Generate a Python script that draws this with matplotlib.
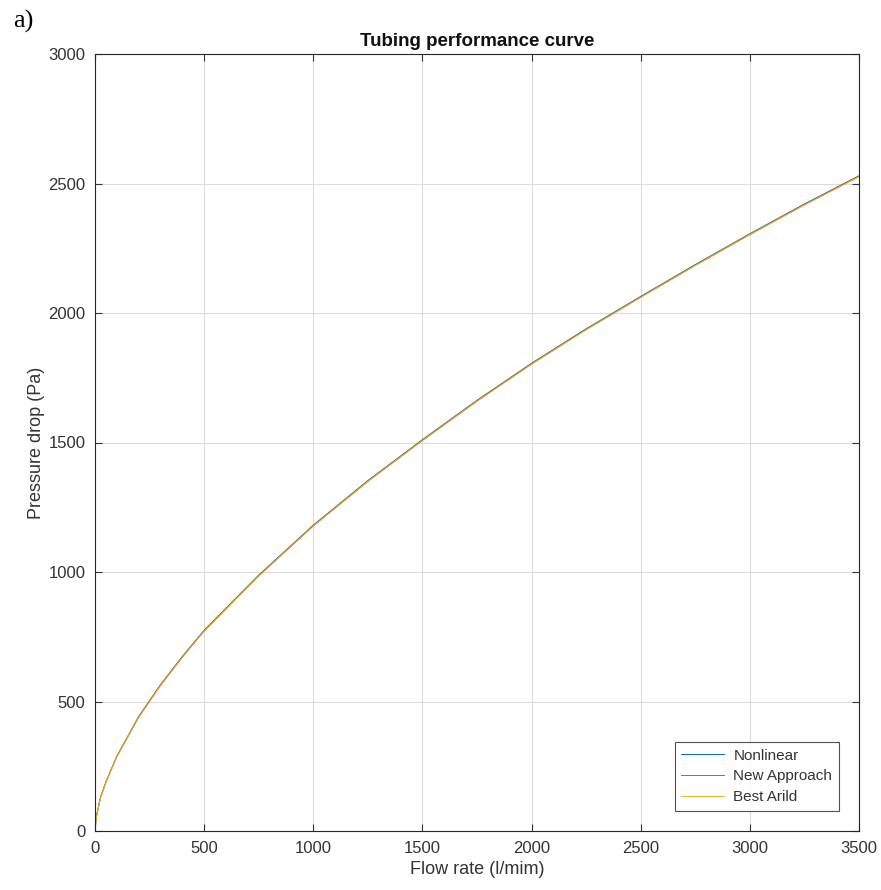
import matplotlib

matplotlib.use("Agg")
import matplotlib.pyplot as plt

# values
flow = [0, 5, 10, 25, 50, 100, 200, 300, 400, 500, 750, 1000, 1250, 1500,
        1750, 2000, 2250, 2500, 2750, 3000, 3250, 3500]
dp_nonlinear = [0, 47, 71, 130, 190, 289, 442, 565, 674, 775, 988, 1181, 1353, 1511,
                1663, 1806, 1939, 2064, 2187, 2306, 2421, 2530]
dp_new = [0, 46, 70, 128, 188, 287, 439, 562, 671, 772, 985, 1178, 1350, 1508,
          1660, 1803, 1936, 2061, 2184, 2303, 2418, 2527]
dp_best = [0, 45, 69, 127, 187, 286, 438, 561, 670, 771, 984, 1177, 1349, 1507,
           1659, 1802, 1935, 2060, 2183, 2302, 2417, 2526]
labels = ["Nonlinear", "New Approach", "Best Arild"]
colors = ["#0072bd", "#d95319", "#edb120"]

plt.rcParams["font.family"] = ["Liberation Sans", "DejaVu Sans"]
txt = "#333333"

fig = plt.figure(figsize=(8.81, 8.90), dpi=100)
ax = fig.add_axes([95 / 881, 59 / 890, 764 / 881, 777 / 890])

for y, lab, c in zip([dp_nonlinear, dp_new, dp_best], labels, colors):
    ax.plot(flow, y, color=c, lw=0.7, label=lab)

ax.set_xlim(0, 3500)
ax.set_ylim(0, 3000)
ax.set_xticks(range(0, 3501, 500))
ax.set_yticks(range(0, 3001, 500))
ax.grid(True, color="#dcdcdc", lw=0.8)
ax.set_axisbelow(True)
ax.tick_params(direction="in", length=5, width=0.8, top=True, right=True,
               labelsize=12, colors=txt, pad=7)
for s in ax.spines.values():
    s.set_color("#262626")
    s.set_linewidth(0.8)

ax.set_xlabel("Flow rate (l/mim)", fontsize=13, color=txt, labelpad=4)
ax.set_ylabel("Pressure drop (Pa)", fontsize=13, color=txt, labelpad=2)
ax.set_title("Tubing performance curve", fontsize=13.5, fontweight="bold",
             color="#111111", pad=6)

leg = ax.legend(loc="lower right", fontsize=11, frameon=True, fancybox=False,
                borderaxespad=1.3, handlelength=2.8, handletextpad=0.6,
                labelspacing=0.45, borderpad=0.45)
leg.get_frame().set_edgecolor("#262626")
leg.get_frame().set_linewidth(0.8)
for t in leg.get_texts():
    t.set_color(txt)

fig.text(13 / 881, 1 - 21 / 890, "a)", fontsize=19, family="Liberation Serif",
         va="center", ha="left")

fig.savefig("out.png", dpi=100)
